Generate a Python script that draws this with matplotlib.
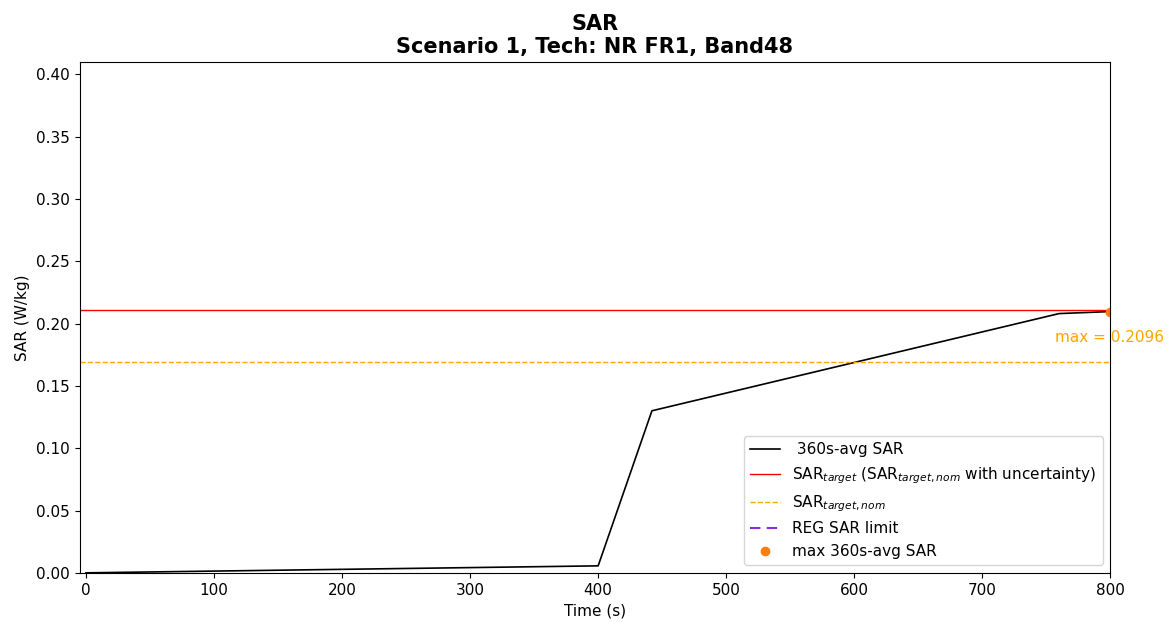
import matplotlib
matplotlib.use("Agg")
import matplotlib.pyplot as plt

# 360s-avg SAR curve
time_s = [0, 400, 442, 760, 800]
sar_avg = [0.0, 0.0056, 0.130, 0.208, 0.2096]

sar_target = 0.2112
sar_target_nom = 0.169
reg_limit = 1.6
max_time = 800
max_sar = 0.2096

fig = plt.figure(figsize=(11.7, 6.24), dpi=100)
ax = fig.add_axes([0.068, 0.082, 0.881, 0.819])

ax.plot(time_s, sar_avg, color="black", lw=1.2, label=" 360s-avg SAR")
ax.axhline(sar_target, color="red", lw=1, label=r"SAR$_{target}$ (SAR$_{target,nom}$ with uncertainty)")
ax.axhline(sar_target_nom, color="orange", lw=1, ls="--", label=r"SAR$_{target,nom}$")
ax.axhline(reg_limit, color="#8a2be2", lw=1.5, ls=(0, (5, 3)), label="REG SAR limit")
ax.plot([max_time], [max_sar], "o", color="#ff7f0e", ms=6, label="max 360s-avg SAR")
ax.annotate(f"max = {max_sar:.4f}", (max_time, max_sar), xytext=(-40, -22),
            textcoords="offset points", color="orange", fontsize=11, annotation_clip=False)

ax.set_xlim(-5, 800)
ax.set_ylim(0, 0.41)
ax.set_xlabel("Time (s)", fontsize=11)
ax.set_ylabel("SAR (W/kg)", fontsize=11)
ax.tick_params(labelsize=11)
ax.set_title("SAR\nScenario 1, Tech: NR FR1, Band48", fontsize=15, fontweight="bold")
ax.legend(loc="lower right", fontsize=11)

fig.savefig("out.png")
